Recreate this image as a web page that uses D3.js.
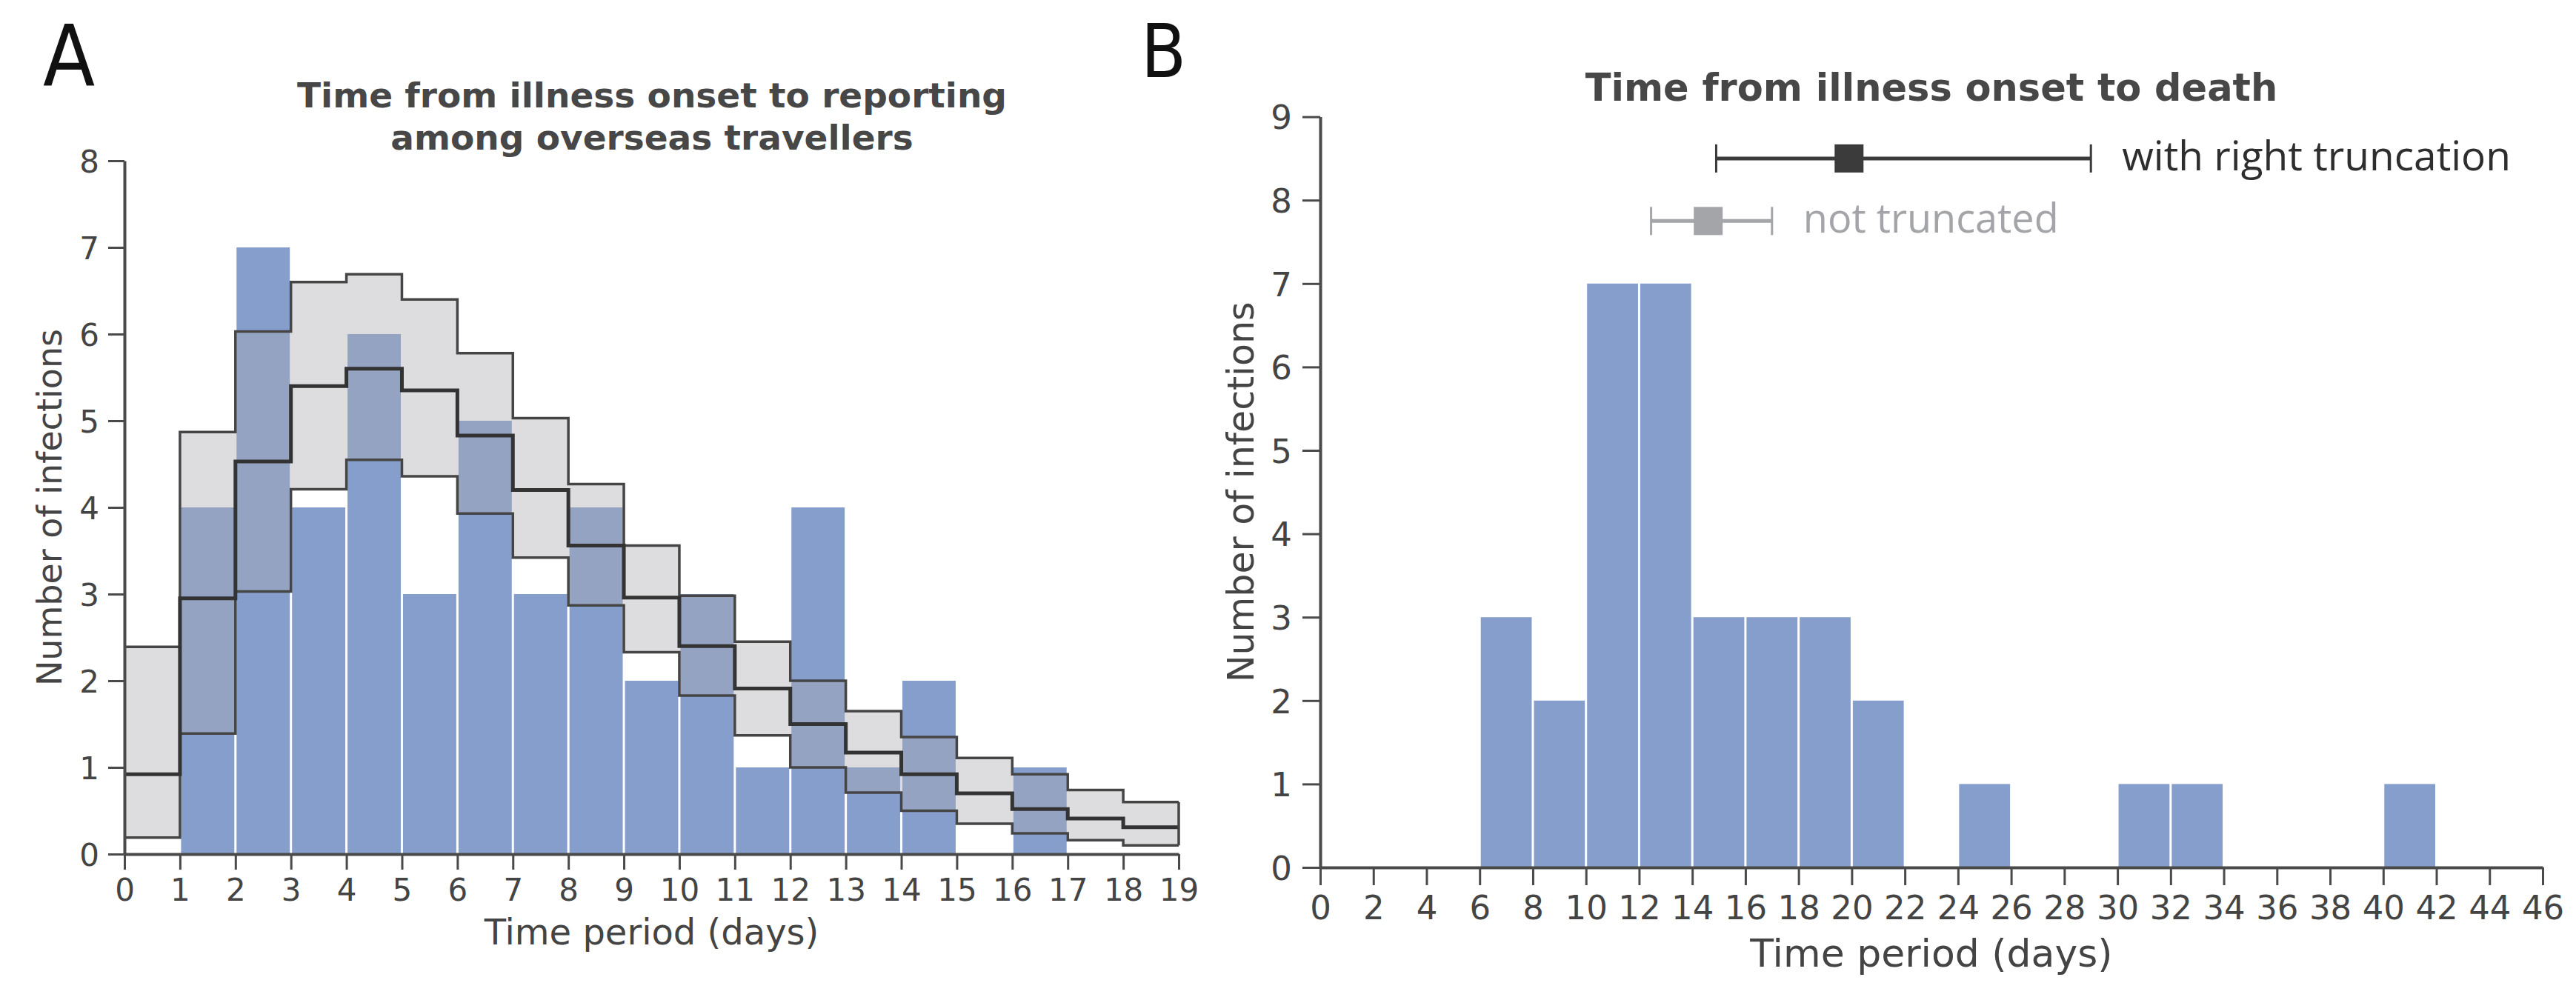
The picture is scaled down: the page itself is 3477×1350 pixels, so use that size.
<!DOCTYPE html>
<html lang="en">
<head>
<meta charset="UTF-8">
<title>Illness onset delays</title>
<script src="https://d3js.org/d3.v7.min.js"></script>
<style>
  body { margin: 0; background: #fff; }
  svg { display: block; }
  .tick text { font-family: "DejaVu Sans", Verdana, sans-serif; fill: #444; }
  .axis path, .axis line { stroke: #4a4a4a; }
</style>
</head>
<body>
<svg id="chart" width="3477" height="1350"></svg>
<script>
// ---- Panel A: onset to reporting (overseas travellers), 1-day bins ----
const binStartA = [0, 1, 2, 3, 4, 5, 6, 7, 8, 9, 10, 11, 12, 13, 14, 15, 16, 17, 18];
const countsA   = [0, 4, 7, 4, 6, 3, 5, 3, 4, 2, 3, 1, 4, 1, 2, 0, 1, 0, 0];
const upperA    = [2.39, 4.87, 6.03, 6.60, 6.69, 6.40, 5.78, 5.03, 4.27, 3.56, 2.98, 2.45, 2.00, 1.65, 1.35, 1.11, 0.92, 0.74, 0.60];
const medianA   = [0.92, 2.95, 4.53, 5.40, 5.60, 5.35, 4.83, 4.20, 3.56, 2.96, 2.40, 1.91, 1.50, 1.17, 0.92, 0.70, 0.52, 0.41, 0.31];
const lowerA    = [0.19, 1.39, 3.03, 4.21, 4.55, 4.36, 3.93, 3.42, 2.87, 2.33, 1.83, 1.37, 1.00, 0.71, 0.50, 0.35, 0.24, 0.16, 0.10];
const xTicksA   = d3.range(0, 20);
const yTicksA   = [0, 1, 2, 3, 4, 5, 6, 7, 8];

// ---- Panel B: onset to death, 2-day bins ----
const binStartB = [6, 8, 10, 12, 14, 16, 18, 20, 24, 30, 32, 40];
const countsB   = [3, 2, 7, 7, 3, 3, 3, 2, 1, 1, 1, 1];
const binWidthB = 2;
const xTicksB   = d3.range(0, 47, 2);
const yTicksB   = [0, 1, 2, 3, 4, 5, 6, 7, 8, 9];

// mean + interval estimates drawn above the histogram
const estLabels = ["with right truncation", "not truncated"];
const estMean   = [19.9, 14.6];
const estLow    = [14.9, 12.45];
const estHigh   = [29.0, 17.0];
const estRow    = [8.5, 7.75];
const estColors = ["#3b3b3b", "#a3a5a8"];

const svg = d3.select("#chart");
const blue = "#869ecb";

// ================= Panel A =================
const xA = d3.scaleLinear().domain([0, 19]).range([168, 1591]);
const yA = d3.scaleLinear().domain([0, 8]).range([1153, 217]);
const gA = svg.append("g");

gA.selectAll("rect.bar")
  .data(binStartA.map((d, i) => ({ x: d, v: countsA[i] })).filter(d => d.v > 0))
  .enter().append("rect")
  .attr("class", "bar")
  .attr("x", d => xA(d.x) + 1.5)
  .attr("width", d => xA(d.x + 1) - xA(d.x) - 3)
  .attr("y", d => yA(d.v))
  .attr("height", d => yA(0) - yA(d.v))
  .attr("fill", blue);

// step series: repeat last value at the right edge
const stepPts = arr => binStartA.map((d, i) => [d, arr[i]]).concat([[19, arr[arr.length - 1]]]);

const band = binStartA.map((d, i) => ({ x: d, lo: lowerA[i], hi: upperA[i] }))
  .concat([{ x: 19, lo: lowerA[18], hi: upperA[18] }]);

gA.append("path")
  .datum(band)
  .attr("d", d3.area().curve(d3.curveStepAfter)
    .x(d => xA(d.x)).y0(d => yA(d.lo)).y1(d => yA(d.hi)))
  .attr("fill", "#a9aab2")
  .attr("fill-opacity", 0.4);

const stepLine = d3.line().curve(d3.curveStepAfter).x(d => xA(d[0])).y(d => yA(d[1]));

[[upperA, 3.5, "#454545"], [lowerA, 3.5, "#454545"], [medianA, 5, "#333"]].forEach(([arr, w, c]) => {
  gA.append("path")
    .datum(stepPts(arr))
    .attr("d", stepLine)
    .attr("fill", "none")
    .attr("stroke", c)
    .attr("stroke-width", w);
});

// close the band at the right end
gA.append("line")
  .attr("x1", xA(19)).attr("x2", xA(19))
  .attr("y1", yA(lowerA[18])).attr("y2", yA(upperA[18]))
  .attr("stroke", "#454545").attr("stroke-width", 3.5);

const axAx = gA.append("g").attr("class", "axis")
  .attr("transform", `translate(0,${yA(0)})`)
  .call(d3.axisBottom(xA).tickValues(xTicksA).tickFormat(d3.format("d")).tickSize(21).tickPadding(12).tickSizeOuter(0));
const axAy = gA.append("g").attr("class", "axis")
  .attr("transform", `translate(${xA(0)},0)`)
  .call(d3.axisLeft(yA).tickValues(yTicksA).tickSize(22).tickPadding(12).tickSizeOuter(0));

[axAx, axAy].forEach(a => {
  a.select(".domain").attr("stroke-width", 4);
  a.selectAll(".tick line").attr("stroke-width", 3);
  a.selectAll(".tick text").attr("font-size", 42);
});
axAy.selectAll(".tick text").attr("dy", "0.36em");

gA.append("text")
  .attr("x", (xA(0) + xA(19)) / 2).attr("y", 1275)
  .attr("text-anchor", "middle")
  .attr("font-family", "DejaVu Sans, Verdana, sans-serif")
  .attr("font-size", 48).attr("fill", "#444")
  .text("Time period (days)");

gA.append("text")
  .attr("transform", `translate(83,${(yA(0) + yA(8)) / 2}) rotate(-90)`)
  .attr("text-anchor", "middle")
  .attr("font-family", "DejaVu Sans, Verdana, sans-serif")
  .attr("font-size", 46).attr("fill", "#444")
  .text("Number of infections");

const titleA = gA.append("text")
  .attr("text-anchor", "middle")
  .attr("font-family", "DejaVu Sans, Verdana, sans-serif")
  .attr("font-weight", "bold")
  .attr("font-size", 47).attr("fill", "#474747");
titleA.append("tspan").attr("x", 880).attr("y", 145).text("Time from illness onset to reporting");
titleA.append("tspan").attr("x", 880).attr("y", 202).text("among overseas travellers");

svg.append("text")
  .attr("x", 58).attr("y", 115)
  .attr("font-family", "Liberation Sans Narrow, DejaVu Sans Condensed, sans-serif")
  .attr("font-size", 114).attr("fill", "#111")
  .text("A");

// ================= Panel B =================
const xB = d3.scaleLinear().domain([0, 46]).range([1782, 3432]);
const yB = d3.scaleLinear().domain([0, 9]).range([1171, 157.6]);
const gB = svg.append("g");

gB.selectAll("rect.bar")
  .data(binStartB.map((d, i) => ({ x: d, v: countsB[i] })))
  .enter().append("rect")
  .attr("class", "bar")
  .attr("x", d => xB(d.x) + 1.5)
  .attr("width", d => xB(d.x + binWidthB) - xB(d.x) - 3)
  .attr("y", d => yB(d.v))
  .attr("height", d => yB(0) - yB(d.v))
  .attr("fill", blue);

const axBx = gB.append("g").attr("class", "axis")
  .attr("transform", `translate(0,${yB(0)})`)
  .call(d3.axisBottom(xB).tickValues(xTicksB).tickFormat(d3.format("d")).tickSize(24).tickPadding(14).tickSizeOuter(0));
const axBy = gB.append("g").attr("class", "axis")
  .attr("transform", `translate(${xB(0)},0)`)
  .call(d3.axisLeft(yB).tickValues(yTicksB).tickSize(24).tickPadding(14).tickSizeOuter(0));

[axBx, axBy].forEach(a => {
  a.select(".domain").attr("stroke-width", 4);
  a.selectAll(".tick line").attr("stroke-width", 3);
  a.selectAll(".tick text").attr("font-size", 45);
});
axBy.selectAll(".tick text").attr("dy", "0.36em");

gB.append("text")
  .attr("x", (xB(0) + xB(46)) / 2).attr("y", 1305)
  .attr("text-anchor", "middle")
  .attr("font-family", "DejaVu Sans, Verdana, sans-serif")
  .attr("font-size", 52).attr("fill", "#444")
  .text("Time period (days)");

gB.append("text")
  .attr("transform", `translate(1692,${(yB(0) + yB(9)) / 2}) rotate(-90)`)
  .attr("text-anchor", "middle")
  .attr("font-family", "DejaVu Sans, Verdana, sans-serif")
  .attr("font-size", 49).attr("fill", "#444")
  .text("Number of infections");

gB.append("text")
  .attr("x", (xB(0) + xB(46)) / 2).attr("y", 136)
  .attr("text-anchor", "middle")
  .attr("font-family", "DejaVu Sans, Verdana, sans-serif")
  .attr("font-weight", "bold")
  .attr("font-size", 51).attr("fill", "#474747")
  .text("Time from illness onset to death");

svg.append("text")
  .attr("x", 1540).attr("y", 104)
  .attr("font-family", "Liberation Sans Narrow, DejaVu Sans Condensed, sans-serif")
  .attr("font-size", 99).attr("fill", "#111")
  .text("B");

// interval estimates
const estFont = [55, 54];
estLabels.forEach((lab, i) => {
  const g = gB.append("g");
  const cy = yB(estRow[i]);
  const c = estColors[i];
  g.append("line")
    .attr("x1", xB(estLow[i])).attr("x2", xB(estHigh[i]))
    .attr("y1", cy).attr("y2", cy)
    .attr("stroke", c).attr("stroke-width", 5);
  [estLow[i], estHigh[i]].forEach(v => {
    g.append("line")
      .attr("x1", xB(v)).attr("x2", xB(v))
      .attr("y1", cy - 19).attr("y2", cy + 19)
      .attr("stroke", c).attr("stroke-width", 3);
  });
  g.append("rect")
    .attr("x", xB(estMean[i]) - 19.5).attr("y", cy - 19)
    .attr("width", 39).attr("height", 38)
    .attr("fill", c);
  g.append("text")
    .attr("x", xB(estHigh[i]) + 42).attr("y", cy + 16)
    .attr("font-family", "Open Sans, Noto Sans, sans-serif")
    .attr("font-size", estFont[i]).attr("fill", i === 0 ? "#2e2e2e" : c)
    .text(lab);
});
</script>
</body>
</html>
